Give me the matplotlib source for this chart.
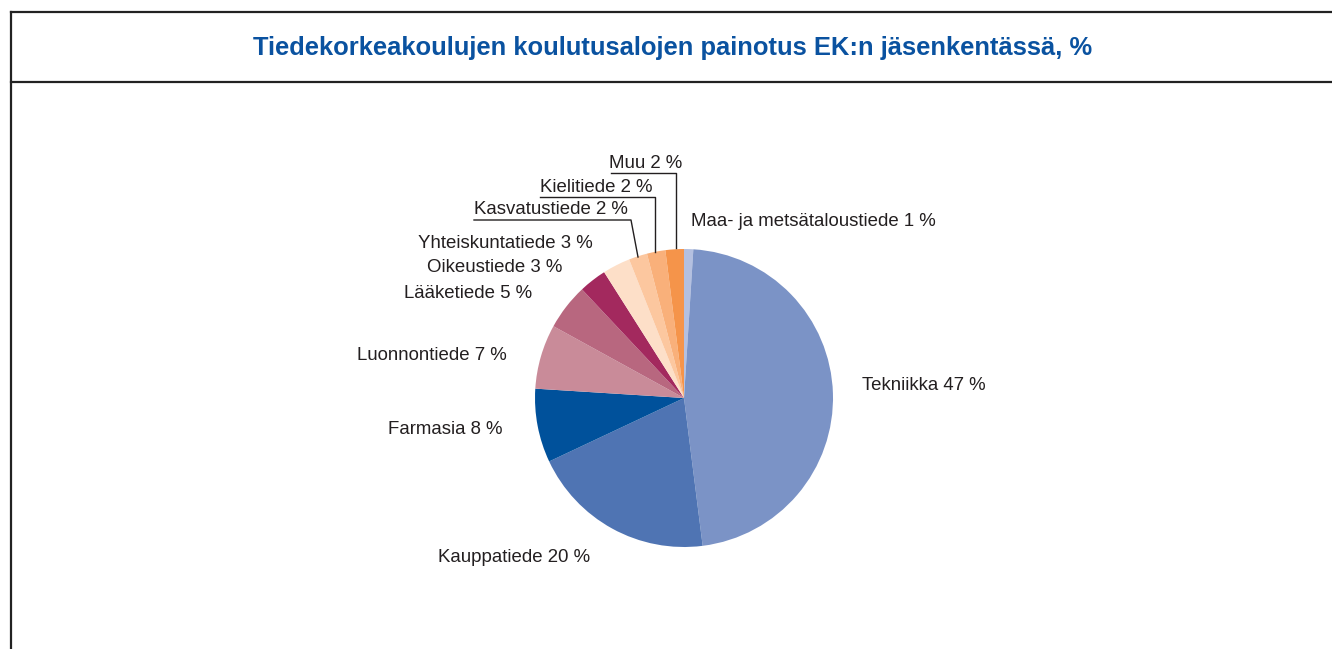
""" plot.py """

import matplotlib
matplotlib.use("Agg")
import matplotlib.pyplot as plt
from matplotlib.lines import Line2D

plt.rcParams['font.family'] = ['Liberation Sans', 'DejaVu Sans']

# data: clockwise from 12 o'clock
fields = ["Maa- ja metsätaloustiede", "Tekniikka", "Kauppatiede", "Farmasia",
          "Luonnontiede", "Lääketiede", "Oikeustiede", "Yhteiskuntatiede",
          "Kasvatustiede", "Kielitiede", "Muu"]
shares = [1, 47, 20, 8, 7, 5, 3, 3, 2, 2, 2]
colors = ["#B4C0E0", "#7B93C6", "#4F74B3", "#00519B", "#C98B99", "#B8677F",
          "#A3295E", "#FDDFC8", "#FCC79F", "#F9B07A", "#F5944A"]

title = "Tiedekorkeakoulujen koulutusalojen painotus EK:n jäsenkentässä, %"

W, H = 1332, 649
fig = plt.figure(figsize=(W / 100, H / 100), dpi=100)
ax = fig.add_axes([0, 0, 1, 1])

cx, cy, r = 684, H - 398, 149
ax.pie(shares, colors=colors, startangle=90, counterclock=False,
       center=(cx, cy), radius=r, wedgeprops=dict(linewidth=0))

ax.set_xlim(0, W)
ax.set_ylim(0, H)
ax.set_aspect('auto')
ax.axis('off')

# frame
frame_kw = dict(color="#222222", lw=1.6)
ax.add_line(Line2D([11, W], [H - 12, H - 12], **frame_kw))
ax.add_line(Line2D([11, W], [H - 82, H - 82], **frame_kw))
ax.add_line(Line2D([11, 11], [H - 12, 0], **frame_kw))

ax.text(673, H - 48, title, ha='center', va='center', fontsize=18.4,
        fontweight='bold', color="#0A52A0")

# label positions in pixels (x, y from top, ha)
label_pos = [(691, 222, 'left'), (862, 385, 'left'), (514, 557, 'center'),
             (503, 430, 'right'), (507, 356, 'right'), (532, 293, 'right'),
             (562, 268, 'right'), (593, 243, 'right'), (628, 210, 'right'),
             (653, 187, 'right'), (682, 163, 'right')]

for name, val, (lx, ly, ha) in zip(fields, shares, label_pos):
    ax.text(lx, H - ly, f"{name} {val} %", ha=ha, va='center',
            fontsize=13.4, color="#231F20")

# leader lines for the small slices
leaders = [
    [(474, 220), (631, 220), (638, 257)],
    [(540, 197), (655, 197), (655, 252)],
    [(611, 173), (676, 173), (676, 248)],
]
for pts in leaders:
    xs = [p[0] for p in pts]
    ys = [H - p[1] for p in pts]
    ax.add_line(Line2D(xs, ys, color="#231F20", lw=1.0))

fig.savefig("out.png", dpi=100)
